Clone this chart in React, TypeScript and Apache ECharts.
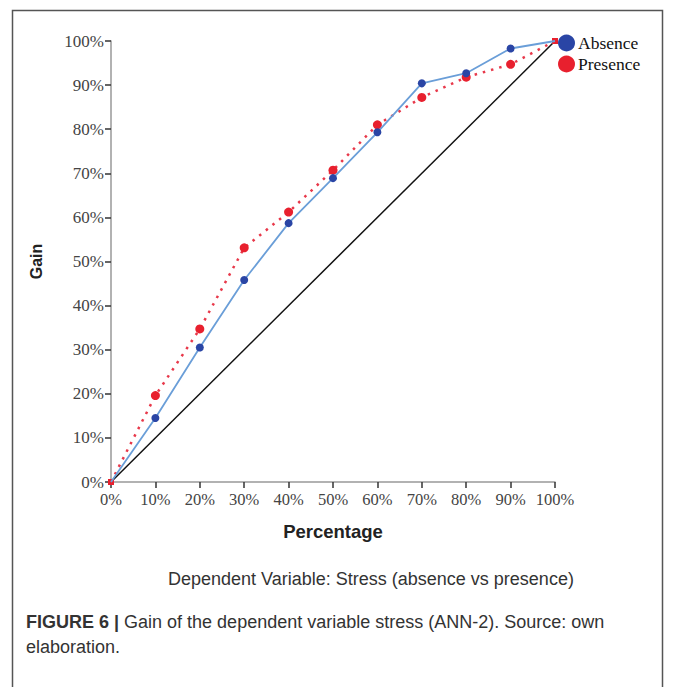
import React, { useEffect, useRef } from "react";
import * as echarts from "echarts";

const percentTicks = [0, 10, 20, 30, 40, 50, 60, 70, 80, 90, 100];
const absenceGain = [0, 14.5, 30.5, 45.8, 58.7, 68.9, 79.3, 90.4, 92.7, 98.3, 100];
const presenceGain = [0, 19.6, 34.7, 53.1, 61.2, 70.7, 81.0, 87.2, 91.8, 94.7, 100];
const baseline = [0, 100];

const SERIF = "'Liberation Serif', 'DejaVu Serif', serif";
const SANS = "'Liberation Sans', Arial, sans-serif";

export default function App() {
  const ref = useRef<HTMLDivElement>(null);
  useEffect(() => {
    if (!ref.current) return;
    const chart = echarts.init(ref.current, undefined, { renderer: "svg" });
    const endpoint = (i: number, n: number) => i === 0 || i === n - 1;
    chart.setOption({
      animation: false,
      backgroundColor: "#ffffff",
      grid: { left: 111, right: 120, top: 41, bottom: 205, containLabel: false },
      legend: {
        orient: "vertical",
        left: 553,
        top: 29,
        icon: "circle",
        itemWidth: 17,
        itemHeight: 17,
        itemGap: 3,
        data: ["Absence", "Presence"],
        textStyle: { fontFamily: SERIF, fontSize: 17.5, lineHeight: 17, color: "#111", padding: [0, 0, 0, -2] },
      },
      xAxis: {
        type: "value",
        min: 0,
        max: 100,
        interval: 10,
        name: "Percentage",
        nameLocation: "middle",
        nameGap: 40,
        nameTextStyle: { fontFamily: SANS, fontSize: 18.5, fontWeight: "bold", color: "#222" },
        axisLine: { lineStyle: { color: "#999", width: 1.5 } },
        axisTick: { length: 6, lineStyle: { color: "#333", width: 1.5 } },
        axisLabel: { formatter: "{value}%", fontFamily: SERIF, fontSize: 16.5, color: "#444", margin: 9 },
        splitLine: { show: false },
      },
      yAxis: {
        type: "value",
        min: 0,
        max: 100,
        interval: 10,
        name: "Gain",
        nameLocation: "middle",
        nameGap: 67,
        nameRotate: 90,
        nameTextStyle: { fontFamily: SANS, fontSize: 16, fontWeight: "bold", color: "#222" },
        axisLine: { show: true, lineStyle: { color: "#999", width: 1.5 } },
        axisTick: { show: true, length: 6, lineStyle: { color: "#333", width: 1.5 } },
        axisLabel: { formatter: "{value}%", fontFamily: SERIF, fontSize: 17, color: "#444", margin: 7 },
        splitLine: { show: false },
      },
      series: [
        {
          name: "Baseline",
          type: "line",
          data: baseline.map((v) => [v, v]),
          symbol: "none",
          lineStyle: { color: "#111", width: 1.5 },
          z: 1,
        },
        {
          name: "Absence",
          type: "line",
          data: percentTicks.map((x, i) => ({
            value: [x, absenceGain[i]],
            symbol: endpoint(i, percentTicks.length) ? "none" : "circle",
          })),
          symbol: "circle",
          symbolSize: 8,
          itemStyle: { color: "#2a45a5" },
          lineStyle: { color: "#6a9ed8", width: 1.8 },
          z: 3,
        },
        {
          name: "Presence",
          type: "line",
          data: percentTicks.map((x, i) => ({
            value: [x, presenceGain[i]],
            symbol: endpoint(i, percentTicks.length) ? "rect" : "circle",
            symbolSize: endpoint(i, percentTicks.length) ? 6 : 9,
          })),
          symbol: "circle",
          symbolSize: 9,
          itemStyle: { color: "#e8202e" },
          lineStyle: { color: "#e8384a", width: 2.5, type: [2.5, 6] },
          z: 2,
        },
      ],
      graphic: [
        {
          type: "rect",
          shape: { x: 12.5, y: 10.5, width: 650, height: 690 },
          style: { fill: "none", stroke: "#555", lineWidth: 1.5 },
          silent: true,
        },
        {
          type: "text",
          left: 168,
          top: 570,
          style: {
            text: "Dependent Variable: Stress (absence vs presence)",
            font: `18px ${SANS}`,
            fill: "#333",
          },
        },
        {
          type: "text",
          left: 26,
          top: 609,
          style: {
            text: "{b|FIGURE 6 |} Gain of the dependent variable stress (ANN-2). Source: own\nelaboration.",
            font: `18px ${SANS}`,
            fill: "#333",
            lineHeight: 25,
            rich: {
              b: { fontWeight: "bold", fontSize: 18, fontFamily: SANS, fill: "#333", lineHeight: 25 },
            },
          },
        },
      ],
    });
    return () => chart.dispose();
  }, []);
  return (
    <div
      ref={ref}
      style={{ position: "fixed", left: 0, top: 0, width: 675, height: 687 }}
    />
  );
}
